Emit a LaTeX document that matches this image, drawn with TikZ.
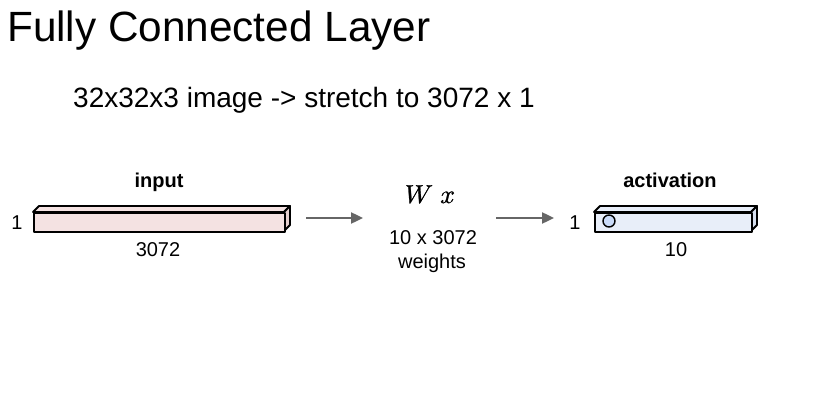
\documentclass[tikz,border=0pt]{standalone}
\usepackage{graphicx}
\usepackage{fontspec}
\setmainfont{Liberation Sans}
\usetikzlibrary{arrows.meta}
\definecolor{inpink}{HTML}{F4E2E2}
\definecolor{inpinkside}{HTML}{E6D0D0}
\definecolor{actblue}{HTML}{E8EEF9}
\definecolor{actblueside}{HTML}{D6DFEE}
\definecolor{circblue}{HTML}{C9DAF8}
\definecolor{arrgray}{HTML}{666666}
\newcommand{\heavytext}[1]{\special{pdf:literal direct 2 Tr 0.1 w}#1\special{pdf:literal direct 0 Tr}}
\tikzset{
  x=1pt, y=-1pt,
  txt/.style={inner sep=0pt, anchor=base, font=\fontsize{20}{24}\selectfont},
  boldtxt/.style={txt, font=\fontsize{20}{24}\selectfont\bfseries},
  face/.style={draw=black, line width=1.8pt, line join=round},
  flow/.style={draw=arrgray, line width=2.4pt, -{Triangle[length=12pt,width=11pt]}},
}
\begin{document}
\begin{tikzpicture}
\useasboundingbox (0,0) rectangle (831,404);
% title
\node[inner sep=0pt, anchor=base west, font=\fontsize{42.3}{50}\selectfont] (title) at (7,42) {Fully Connected Layer};
\node[inner sep=0pt, anchor=base west, font=\fontsize{28}{32}\selectfont] (sub) at (73,107) {32x32x3 image -> stretch to 3072 x 1};
% input box
\path[face, fill=inpink] (33,212) -- (39,206) -- (290,206) -- (284,212) -- cycle;
\path[face, fill=inpinkside] (284,212) -- (290,206) -- (290,225) -- (284,231) -- cycle;
\node[face, fill=inpink, minimum width=251pt, minimum height=19pt, inner sep=0pt, anchor=north west] (inbox) at (33,212) {};
\node[boldtxt] (inlab) at (159,187) {input};
\node[txt] (inone) at (17,229) {1};
\node[txt] (inlen) at (158,256) {3072};
% weights
\node[inner sep=0pt, anchor=base] (wx) at (430,203) {\scalebox{2.6}{\heavytext{$W\;x$}}};
\node[txt] (wdim) at (433,244) {10 x 3072};
\node[txt] (wlab) at (432,268) {weights};
% activation box
\path[face, fill=actblue] (594,212) -- (600,206) -- (757,206) -- (751,212) -- cycle;
\path[face, fill=actblueside] (751,212) -- (757,206) -- (757,225) -- (751,231) -- cycle;
\node[face, fill=actblue, minimum width=157pt, minimum height=19pt, inner sep=0pt, anchor=north west] (actbox) at (594,212) {};
\node[draw=black, line width=1.4pt, fill=circblue, circle, minimum size=12pt, inner sep=0pt] (neuron) at (609,221) {};
\node[boldtxt] (actlab) at (670,187) {activation};
\node[txt] (actone) at (575,229) {1};
\node[txt] (actlen) at (676,256) {10};
% arrows
\coordinate (a1s) at (306,218);
\coordinate (a1e) at (363,218);
\coordinate (a2s) at (496,218);
\coordinate (a2e) at (554,218);
\draw[flow] (a1s) -- (a1e);
\draw[flow] (a2s) -- (a2e);
\end{tikzpicture}
\end{document}
